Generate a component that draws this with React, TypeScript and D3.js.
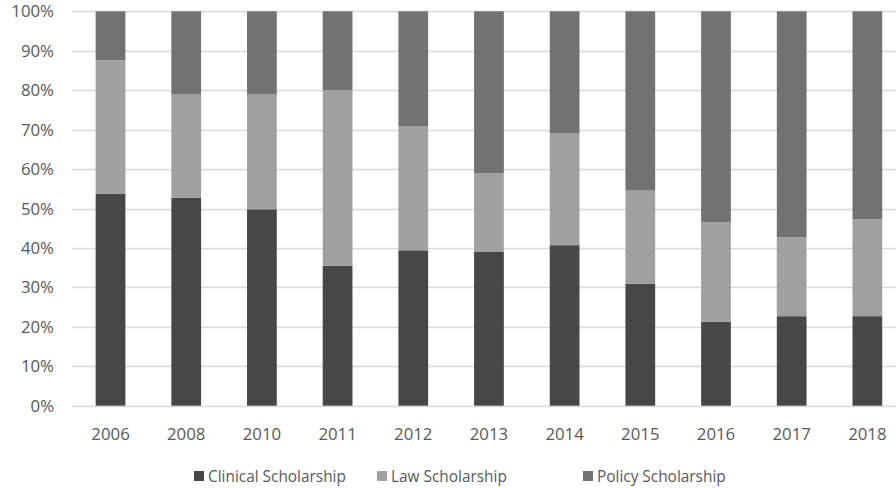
import React from "react";
import * as d3 from "d3";

// Share of scholarship type per year (percent of total)
const years = ["2006", "2008", "2010", "2011", "2012", "2013", "2014", "2015", "2016", "2017", "2018"];
const clinical = [53.7, 52.7, 49.8, 35.5, 39.4, 39.1, 40.7, 30.9, 21.3, 22.7, 22.7];
const law = [33.9, 26.2, 29.1, 44.5, 31.5, 19.8, 28.3, 23.8, 25.2, 20.0, 24.6];
const policy = [12.4, 21.1, 21.1, 20.0, 29.1, 41.1, 31.0, 45.3, 53.5, 57.3, 52.7];
const yTicks = [0, 10, 20, 30, 40, 50, 60, 70, 80, 90, 100];

const seriesNames = ["Clinical Scholarship", "Law Scholarship", "Policy Scholarship"];
const seriesColors = ["#474747", "#a0a0a0", "#727272"];

const W = 896;
const H = 488;
const FONT = "'Open Sans', 'DejaVu Sans', sans-serif";

export default function App() {
  const rows = years.map((year, i) => ({
    year,
    c: clinical[i],
    l: law[i],
    p: policy[i],
  }));
  const keys = ["c", "l", "p"];
  const stacked = d3.stack<any>().keys(keys)(rows);

  const x = d3
    .scaleBand<string>()
    .domain(years)
    .range([72.7, 905.2])
    .paddingInner(0.607)
    .paddingOuter(0.3035);
  const y = d3.scaleLinear().domain([0, 100]).range([405.7, 11.3]);

  const legendX = [194, 377, 583];

  return (
    <svg
      width={W}
      height={H}
      style={{ position: "absolute", left: 0, top: 0, background: "#fff" }}
      fontFamily={FONT}
    >
      {/* horizontal gridlines */}
      {yTicks.map((t) => (
        <line
          key={"g" + t}
          x1={72}
          x2={W}
          y1={Math.round(y(t)) + 0.5}
          y2={Math.round(y(t)) + 0.5}
          stroke="#d9d9d9"
          strokeWidth={1.3}
        />
      ))}
      {/* y tick labels */}
      {yTicks.map((t) => (
        <text
          key={"yl" + t}
          x={54}
          y={y(t)}
          dy="0.36em"
          textAnchor="end"
          fontSize={16.8}
          fill="#595959"
        >
          {t + "%"}
        </text>
      ))}
      {/* stacked bars */}
      {stacked.map((s, si) => (
        <g key={s.key} fill={seriesColors[si]}>
          {s.map((d, i) => (
            <rect
              key={i}
              x={x(years[i])}
              width={x.bandwidth()}
              y={y(d[1])}
              height={y(d[0]) - y(d[1])}
            />
          ))}
        </g>
      ))}
      {/* x tick labels */}
      {years.map((yr) => (
        <text
          key={"xl" + yr}
          x={(x(yr) as number) + x.bandwidth() / 2}
          y={439.5}
          textAnchor="middle"
          fontSize={16.8}
          fill="#595959"
        >
          {yr}
        </text>
      ))}
      {/* legend */}
      {seriesNames.map((name, i) => (
        <g key={name}>
          <rect x={legendX[i]} y={471} width={10} height={10} fill={seriesColors[i]} />
          <text x={legendX[i] + 14} y={476} dy="0.36em" fontSize={15.4} fill="#595959">
            {name}
          </text>
        </g>
      ))}
    </svg>
  );
}
